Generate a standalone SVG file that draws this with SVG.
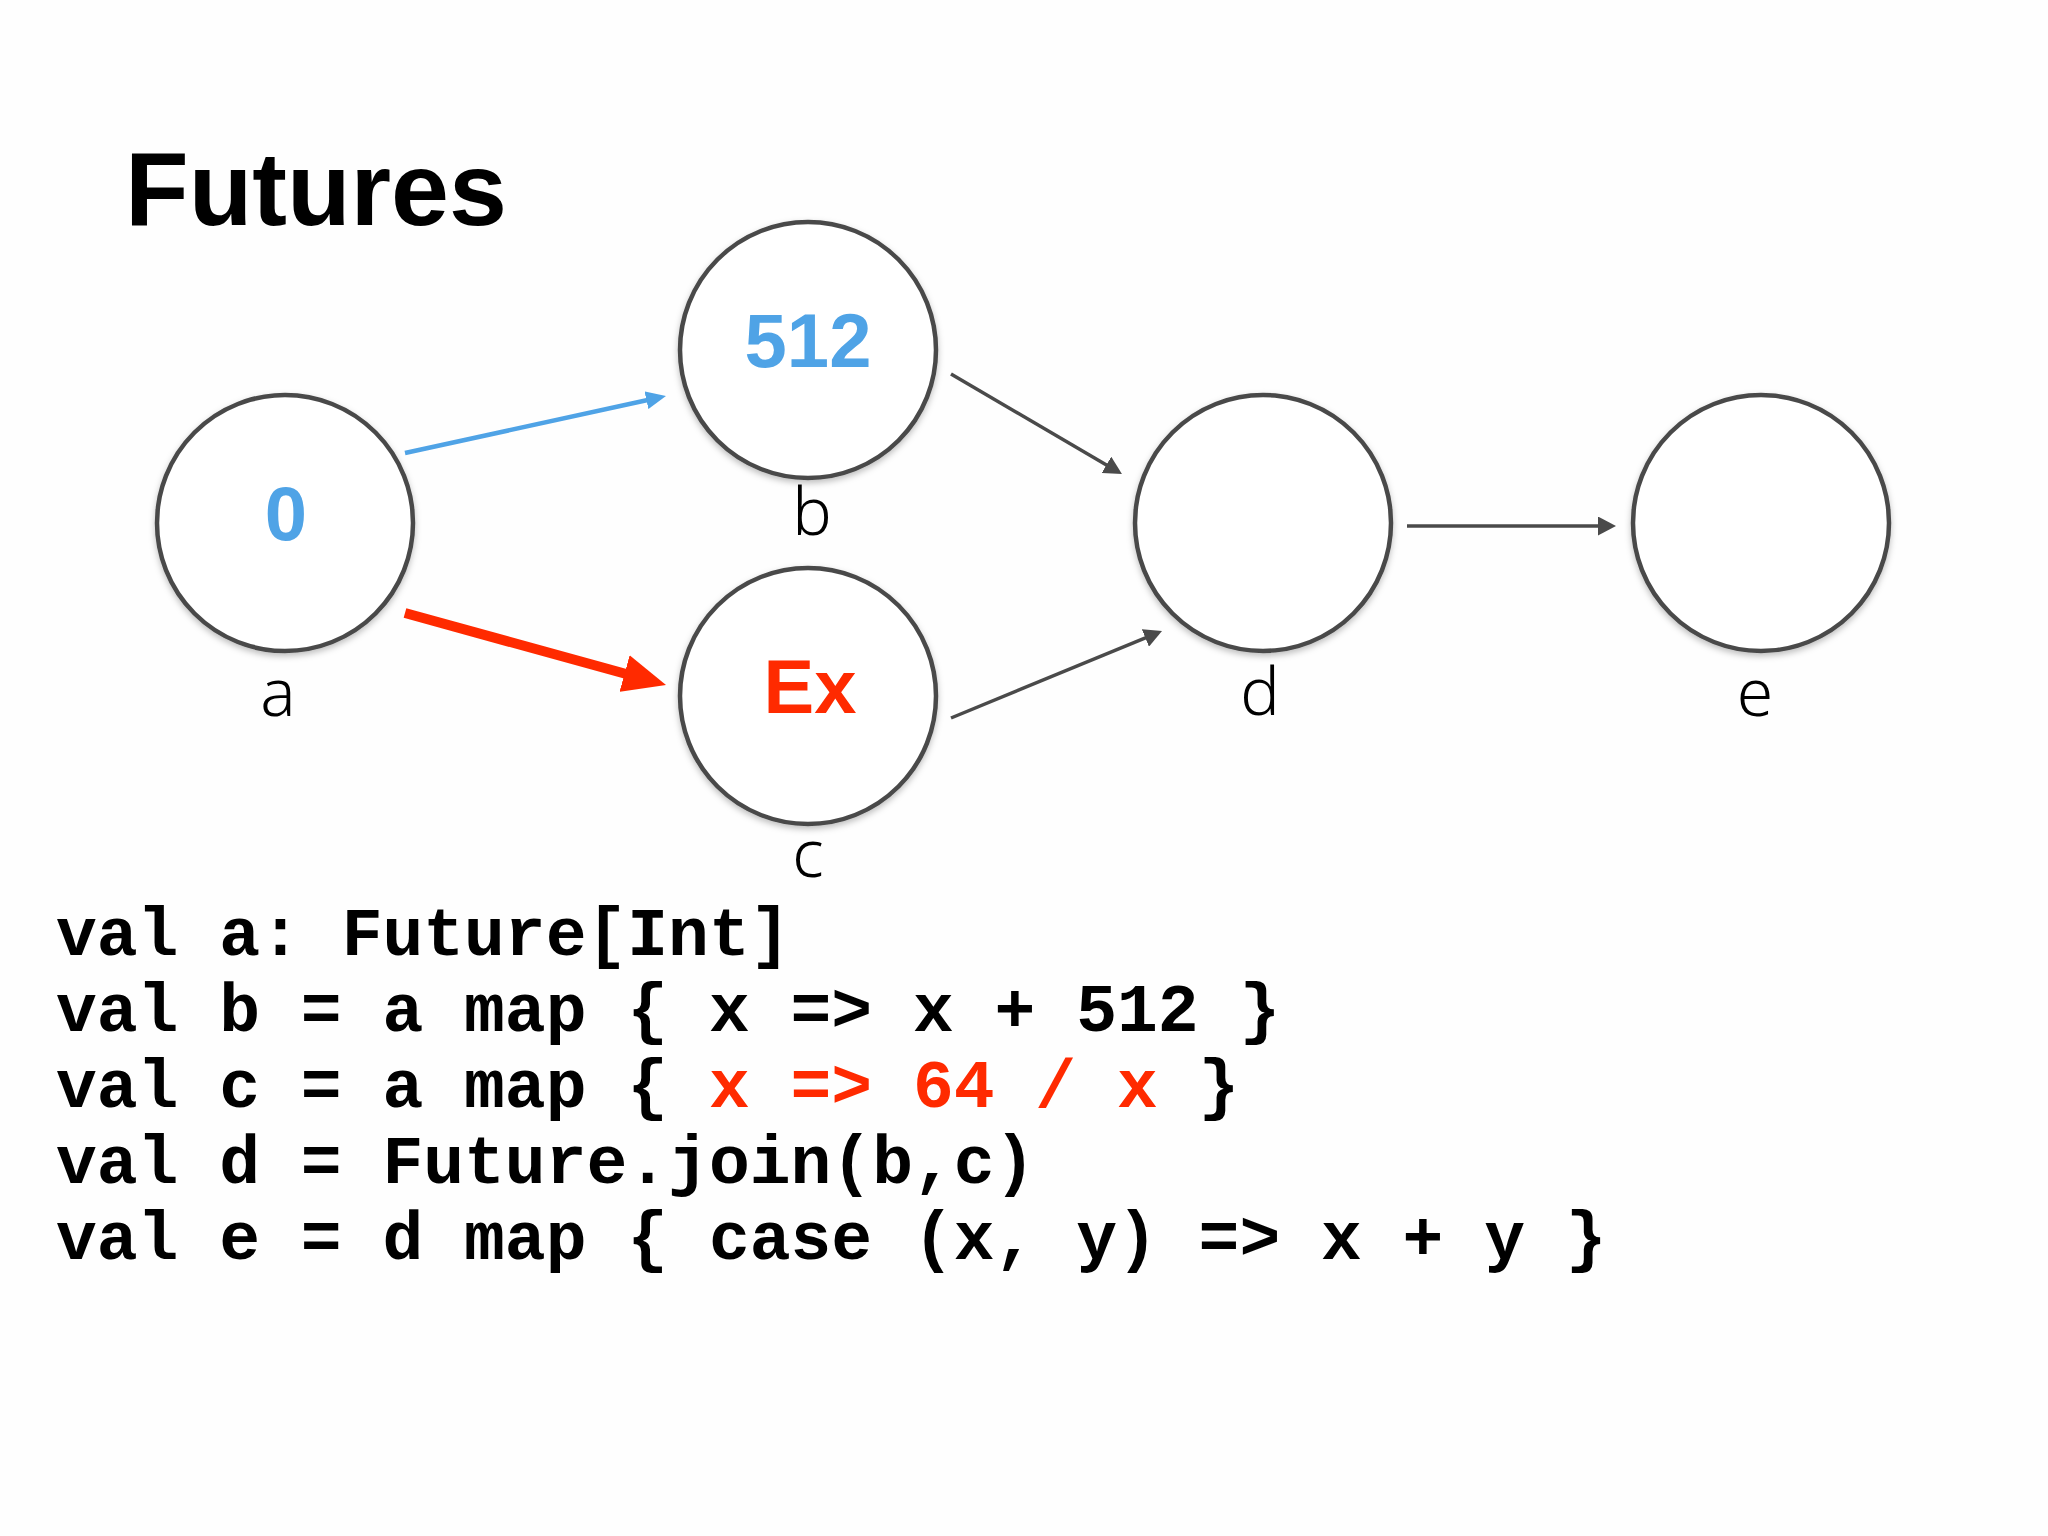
<svg xmlns="http://www.w3.org/2000/svg" width="2048" height="1536" viewBox="0 0 2048 1536">
  <style>
    .node { fill: #ffffff; stroke: #4a4a4a; stroke-width: 4.5; filter: url(#shadow); }
    .lbl { font-family: "Noto Sans", "Liberation Sans", sans-serif; font-weight: 300; font-size: 66px; fill: #000000; text-anchor: middle; }
    .val { font-family: "Liberation Sans", Arial, sans-serif; font-weight: bold; font-size: 76px; text-anchor: middle; }
    .blue { fill: #4FA3E6; }
    .red { fill: #FF2A00; }
    .edge { fill: none; stroke: #4a4a4a; stroke-width: 3.5; marker-end: url(#arrGray); }
    .code { font-family: "Liberation Mono", "Courier New", monospace; font-weight: bold; font-size: 68px; fill: #000000; white-space: pre; }
    .title { font-family: "Liberation Sans", Arial, sans-serif; font-weight: bold; font-size: 104px; fill: #000000; }
  </style>
  <defs>
    <filter id="shadow" x="-20%" y="-20%" width="140%" height="140%">
      <feDropShadow dx="0" dy="3" stdDeviation="3" flood-color="#000000" flood-opacity="0.25"/>
    </filter>
    <marker id="arrGray" markerUnits="userSpaceOnUse" markerWidth="18" markerHeight="19" refX="6" refY="9.5" orient="auto">
      <path d="M0,0 L18,9.5 L0,19 z" fill="#4a4a4a"/>
    </marker>
    <marker id="arrBlue" markerUnits="userSpaceOnUse" markerWidth="20" markerHeight="18" refX="6" refY="9" orient="auto">
      <path d="M0,0 L20,9 L0,18 z" fill="#4FA3E6"/>
    </marker>
    <marker id="arrRed" markerUnits="userSpaceOnUse" markerWidth="43" markerHeight="38" refX="13" refY="19" orient="auto">
      <path d="M0,0 L43,19 L0,38 z" fill="#FF2A00"/>
    </marker>
  </defs>

  <rect x="0" y="0" width="2048" height="1536" fill="#FEFEFE"/>

  <text class="title" x="125" y="225" textLength="382" lengthAdjust="spacingAndGlyphs">Futures</text>

  <g id="connectors">
    <line x1="405" y1="453" x2="652.3" y2="399.0" stroke="#4FA3E6" stroke-width="4.5" marker-end="url(#arrBlue)"/>
    <line x1="405" y1="613" x2="637.1" y2="677.0" stroke="#FF2A00" stroke-width="10" marker-end="url(#arrRed)"/>
    <line class="edge" x1="951" y1="374" x2="1111.6" y2="467.9"/>
    <line class="edge" x1="951" y1="718" x2="1150.9" y2="635.6"/>
    <line class="edge" x1="1407" y1="526" x2="1604" y2="526"/>
  </g>

  <g id="node-a">
    <circle class="node" cx="285" cy="523" r="128"/>
    <text class="val blue" x="286" y="540">0</text>
    <text class="lbl" x="278" y="716">a</text>
  </g>
  <g id="node-b">
    <circle class="node" cx="808" cy="350" r="128"/>
    <text class="val blue" x="808" y="367">512</text>
    <text class="lbl" x="812" y="535">b</text>
  </g>
  <g id="node-c">
    <circle class="node" cx="808" cy="696" r="128"/>
    <text class="val red" x="810" y="713">Ex</text>
    <text class="lbl" x="808" y="877">c</text>
  </g>
  <g id="node-d">
    <circle class="node" cx="1263" cy="523" r="128"/>
    <text class="lbl" x="1260" y="715">d</text>
  </g>
  <g id="node-e">
    <circle class="node" cx="1761" cy="523" r="128"/>
    <text class="lbl" x="1755" y="716">e</text>
  </g>

  <g id="code">
    <text class="code" x="56" y="955">val a: Future[Int]</text>
    <text class="code" x="56" y="1031">val b = a map { x =&gt; x + 512 }</text>
    <text class="code" x="56" y="1107">val c = a map { <tspan fill="#FF2A00">x =&gt; 64 / x</tspan> }</text>
    <text class="code" x="56" y="1183">val d = Future.join(b,c)</text>
    <text class="code" x="56" y="1259">val e = d map { case (x, y) =&gt; x + y }</text>
  </g>
</svg>
